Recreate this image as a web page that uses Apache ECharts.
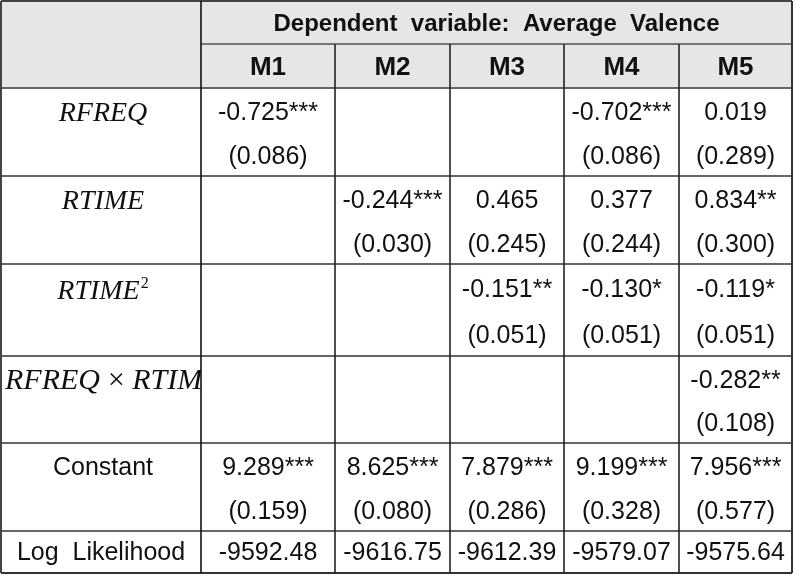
<!DOCTYPE html>
<html><head><meta charset="utf-8">
<script src="https://cdn.jsdelivr.net/npm/echarts@6/dist/echarts.min.js"></script>
<style>html,body{margin:0;padding:0;background:#fff}#c{width:796px;height:576px}</style>
</head><body><div id="c"></div>
<script>
// ---------- data ----------
const headerTitle = 'Dependent  variable:  Average  Valence';
const models = ['M1', 'M2', 'M3', 'M4', 'M5'];
const rowLabels = ['RFREQ', 'RTIME', 'RTIME2', 'RFREQ×RTIME', 'Constant'];
const coefs = [
  ['-0.725***', '', '', '-0.702***', '0.019'],
  ['', '-0.244***', '0.465', '0.377', '0.834**'],
  ['', '', '-0.151**', '-0.130*', '-0.119*'],
  ['', '', '', '', '-0.282**'],
  ['9.289***', '8.625***', '7.879***', '9.199***', '7.956***']
];
const stdErrs = [
  ['(0.086)', '', '', '(0.086)', '(0.289)'],
  ['', '(0.030)', '(0.245)', '(0.244)', '(0.300)'],
  ['', '', '(0.051)', '(0.051)', '(0.051)'],
  ['', '', '', '', '(0.108)'],
  ['(0.159)', '(0.080)', '(0.286)', '(0.328)', '(0.577)']
];
const logLikLabel = 'Log  Likelihood';
const logLik = ['-9592.48', '-9616.75', '-9612.39', '-9579.07', '-9575.64'];

// ---------- layout (table units = pixels of the value axes) ----------
const colEdges = [1, 201, 335, 450, 564, 679, 792];
const rowEdges = [1, 44, 88, 176, 264, 356, 443, 531, 573];
const italicRows = [true, true, true, true, false];

const SANS = '"Liberation Sans", Arial, sans-serif';
const SERIF = '"Liberation Serif", "Times New Roman", serif';

// backgrounds
const bgData = [
  [colEdges[0], rowEdges[0], colEdges[6], rowEdges[2]]
];
// lines
const lineData = [];
lineData.push([colEdges[0], rowEdges[0], colEdges[6], rowEdges[0], '#444', 2]);
lineData.push([colEdges[1], rowEdges[1], colEdges[6], rowEdges[1], '#777', 2]);
for (let i = 2; i < rowEdges.length; i++) {
  lineData.push([colEdges[0], rowEdges[i], colEdges[6], rowEdges[i], i === rowEdges.length - 1 ? '#333' : '#666', 2]);
}
lineData.push([colEdges[0], rowEdges[0], colEdges[0], rowEdges[8], '#444', 2]);
lineData.push([colEdges[1], rowEdges[0], colEdges[1], rowEdges[8], '#111', 1.6]);
for (let j = 2; j < 6; j++) lineData.push([colEdges[j], rowEdges[1], colEdges[j], rowEdges[8], '#222', 1.6]);
lineData.push([colEdges[6], rowEdges[0], colEdges[6], rowEdges[8], '#333', 2]);

// texts
const textItems = [];
const cx = j => (colEdges[j] + colEdges[j + 1]) / 2;
textItems.push({ value: [(colEdges[1] + colEdges[6]) / 2, (rowEdges[0] + rowEdges[1]) / 2 + 1.5], text: headerTitle, kind: 'title' });
models.forEach((m, j) => textItems.push({ value: [cx(j + 1), (rowEdges[1] + rowEdges[2]) / 2 + 2], text: m, kind: 'head' }));
rowLabels.forEach((lab, i) => {
  const top = rowEdges[i + 2], bot = rowEdges[i + 3];
  const y1 = top + (bot - top) * 0.265 + 2, y2 = top + (bot - top) * 0.76 + 2;
  let kind = italicRows[i] ? 'ital' : 'body';
  if (lab === 'RTIME2') kind = 'sup';
  if (lab.length > 8 && italicRows[i]) kind = 'italClip';
  textItems.push({ value: [kind === 'italClip' ? colEdges[0] + 4 : cx(0) + 2, y1], text: lab, kind: kind, clip: [colEdges[0], top, colEdges[1] - colEdges[0], bot - top] });
  for (let j = 0; j < 5; j++) {
    if (coefs[i][j]) textItems.push({ value: [cx(j + 1), y1], text: coefs[i][j], kind: 'body' });
    if (stdErrs[i][j]) textItems.push({ value: [cx(j + 1), y2], text: stdErrs[i][j], kind: 'body' });
  }
});
{
  const y = (rowEdges[7] + rowEdges[8]) / 2 + 1.5;
  textItems.push({ value: [cx(0), y], text: logLikLabel, kind: 'body' });
  logLik.forEach((v, j) => textItems.push({ value: [cx(j + 1), y], text: v, kind: 'body' }));
}

const chart = echarts.init(document.getElementById('c'), null, { renderer: 'canvas' });
chart.setOption({
  animation: false,
  backgroundColor: '#fff',
  grid: { left: 0, right: 0, top: 0, bottom: 0 },
  xAxis: { type: 'value', min: 0, max: 796, show: false },
  yAxis: { type: 'value', min: 0, max: 576, inverse: true, show: false },
  series: [
    {
      type: 'custom', clip: false, silent: true, z: 1,
      data: bgData,
      renderItem: (params, api) => {
        const a = api.coord([api.value(0), api.value(1)]);
        const b = api.coord([api.value(2), api.value(3)]);
        return { type: 'rect', shape: { x: a[0], y: a[1], width: b[0] - a[0], height: b[1] - a[1] }, style: { fill: '#e6e6e6' } };
      }
    },
    {
      type: 'custom', clip: false, silent: true, z: 3,
      data: lineData,
      renderItem: (params, api) => {
        const d = lineData[params.dataIndex];
        const a = api.coord([d[0], d[1]]);
        const b = api.coord([d[2], d[3]]);
        return { type: 'line', shape: { x1: a[0], y1: a[1], x2: b[0], y2: b[1] }, style: { stroke: d[4], lineWidth: d[5] } };
      }
    },
    {
      type: 'custom', clip: false, silent: true, z: 2,
      data: textItems,
      renderItem: (params, api) => {
        const it = textItems[params.dataIndex];
        const p = api.coord([api.value(0), api.value(1)]);
        const base = { x: p[0], y: p[1], fill: '#111', align: 'center', verticalAlign: 'middle' };
        if (it.kind === 'title') {
          return { type: 'text', style: Object.assign(base, { text: it.text, fontFamily: SANS, fontWeight: 'bold', fontSize: 24 }) };
        }
        if (it.kind === 'head') {
          return { type: 'text', style: Object.assign(base, { text: it.text, fontFamily: SANS, fontWeight: 'bold', fontSize: 26 }) };
        }
        if (it.kind === 'body') {
          return { type: 'text', style: Object.assign(base, { text: it.text, fontFamily: SANS, fontSize: 25 }) };
        }
        if (it.kind === 'ital') {
          return { type: 'text', style: Object.assign(base, { text: it.text, fontFamily: SERIF, fontStyle: 'italic', fontSize: 28 }) };
        }
        if (it.kind === 'sup') {
          return { type: 'text', style: Object.assign(base, {
            text: '{i|RTIME}{s|2}',
            rich: {
              i: { fontFamily: SERIF, fontStyle: 'italic', fontSize: 28, lineHeight: 30, verticalAlign: 'bottom' },
              s: { fontFamily: SERIF, fontSize: 16, lineHeight: 30, verticalAlign: 'top', padding: [0, 0, 12, 1] }
            }
          }) };
        }
        const c1 = api.coord([it.clip[0], it.clip[1]]);
        const c2 = api.coord([it.clip[0] + it.clip[2], it.clip[1] + it.clip[3]]);
        return {
          type: 'group',
          clipPath: { type: 'rect', shape: { x: c1[0], y: c1[1], width: c2[0] - c1[0], height: c2[1] - c1[1] } },
          children: [{
            type: 'text',
            style: Object.assign(base, { align: 'left', text: 'RFREQ\u2009×\u2009RTIME', fontFamily: SERIF, fontStyle: 'italic', fontSize: 30 })
          }]
        };
      }
    }
  ]
});
</script></body></html>
